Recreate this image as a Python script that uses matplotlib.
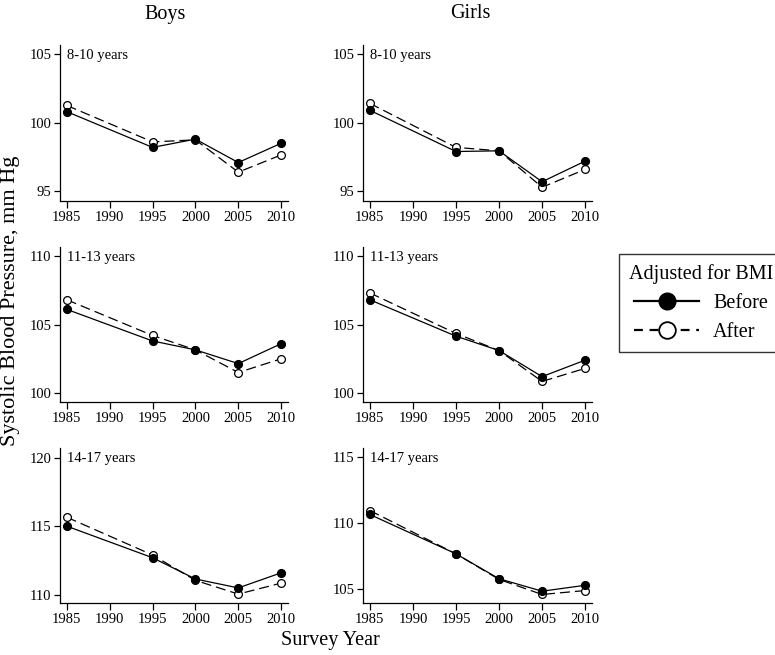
import matplotlib
matplotlib.use("Agg")
import matplotlib.pyplot as plt
from matplotlib.lines import Line2D

plt.rcParams['font.family'] = ['Liberation Serif', 'DejaVu Serif']

years = [1985, 1995, 2000, 2005, 2010]
age_groups = ["8-10 years", "11-13 years", "14-17 years"]
sexes = ["Boys", "Girls"]

boys_before = [
    [100.8, 98.2, 98.8, 97.1, 98.5],
    [106.1, 103.8, 103.15, 102.15, 103.6],
    [115.0, 112.7, 111.15, 110.5, 111.6],
]
boys_after = [
    [101.25, 98.6, 98.75, 96.4, 97.65],
    [106.8, 104.2, 103.15, 101.5, 102.5],
    [115.65, 112.9, 111.05, 110.05, 110.85],
]
girls_before = [
    [100.9, 97.9, 97.95, 95.7, 97.2],
    [106.8, 104.15, 103.1, 101.2, 102.4],
    [110.65, 107.65, 105.75, 104.8, 105.25],
]
girls_after = [
    [101.4, 98.2, 97.95, 95.3, 96.6],
    [107.3, 104.35, 103.1, 100.85, 101.8],
    [110.95, 107.65, 105.7, 104.55, 104.85],
]

yticks = {
    ("Boys", 0): [95, 100, 105], ("Girls", 0): [95, 100, 105],
    ("Boys", 1): [100, 105, 110], ("Girls", 1): [100, 105, 110],
    ("Boys", 2): [110, 115, 120], ("Girls", 2): [105, 110, 115],
}
ylims = {
    ("Boys", 0): (94.3, 105.65), ("Girls", 0): (94.3, 105.65),
    ("Boys", 1): (99.35, 110.65), ("Girls", 1): (99.35, 110.65),
    ("Boys", 2): (109.4, 120.7), ("Girls", 2): (103.9, 115.72),
}
xticks = [1985, 1990, 1995, 2000, 2005, 2010]

W, H = 775, 655
fig = plt.figure(figsize=(W / 100, H / 100), dpi=100)

col_x = [(60, 288), (363, 592)]
row_y = [(45, 201), (247, 402), (448, 603)]

data = {"Boys": (boys_before, boys_after), "Girls": (girls_before, girls_after)}

for ci, sex in enumerate(sexes):
    before, after = data[sex]
    for ri, grp in enumerate(age_groups):
        x0, x1 = col_x[ci]
        y0, y1 = row_y[ri]
        ax = fig.add_axes([x0 / W, 1 - y1 / H, (x1 - x0) / W, (y1 - y0) / H])
        ax.plot(years, after[ri], color='black', lw=0.9, ls=(0, (8, 4)),
                marker='o', ms=5.6, mfc='white', mec='black', mew=0.9, zorder=2)
        ax.plot(years, before[ri], color='black', lw=0.9, ls='-',
                marker='o', ms=5.6, mfc='black', mec='black', zorder=3)
        ax.set_xlim(1984.2, 2010.8)
        ax.set_ylim(*ylims[(sex, ri)])
        ax.set_xticks(xticks)
        ax.set_yticks(yticks[(sex, ri)])
        for s in ['top', 'right']:
            ax.spines[s].set_visible(False)
        for s in ['left', 'bottom']:
            ax.spines[s].set_linewidth(0.9)
        ax.tick_params(axis='both', direction='out', labelsize=10.5, width=0.9, pad=2)
        ax.tick_params(axis='y', length=4)
        ax.tick_params(axis='x', length=5)
        ax.text(0.03, 0.93, grp, transform=ax.transAxes, fontsize=10.5,
                ha='left', va='center')

fig.text(165 / W, 1 - 14 / H, "Boys", fontsize=14.5, ha='center', va='center')
fig.text(470 / W, 1 - 14 / H, "Girls", fontsize=14.5, ha='center', va='center')
fig.text(11 / W, 1 - 301 / H, "Systolic Blood Pressure, mm Hg", fontsize=16,
         rotation=90, ha='center', va='center')
fig.text(330 / W, 1 - 641 / H, "Survey Year", fontsize=14.5, ha='center', va='center')

handles = [
    Line2D([], [], color='black', lw=1.6, ls='-', marker='o', ms=12,
           mfc='black', mec='black'),
    Line2D([], [], color='black', lw=1.6, ls=(0, (4, 3)), marker='o', ms=12,
           mfc='white', mec='black', mew=1.3),
]
leg = fig.legend(handles, ["Before", "After"], title="Adjusted for BMI",
                 loc='upper left', bbox_to_anchor=(619 / W, 1 - 254 / H),
                 fontsize=14.5, title_fontsize=14.5, frameon=True, fancybox=False,
                 edgecolor='black', handlelength=3.2, handletextpad=0.7,
                 borderpad=0.5, labelspacing=0.5, borderaxespad=0)
leg.get_frame().set_linewidth(1.0)
leg._legend_box.align = "center"

fig.savefig("out.png", dpi=100)
